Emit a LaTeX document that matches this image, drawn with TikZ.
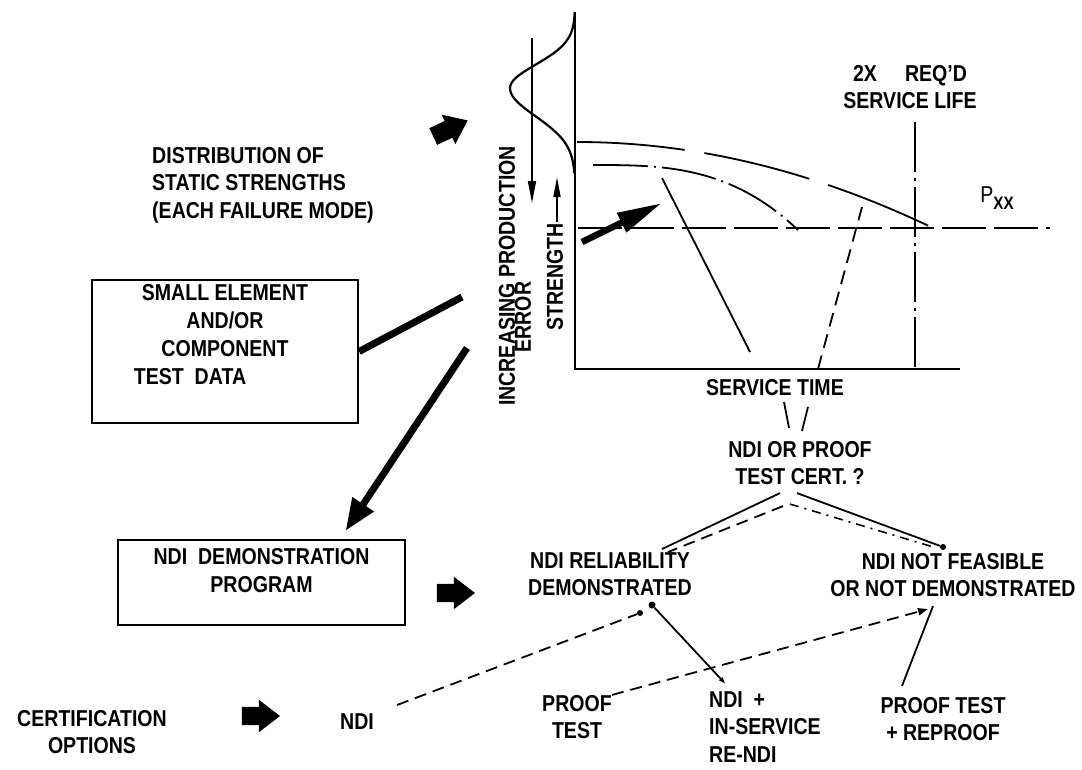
\documentclass[tikz,border=0pt]{standalone}
\usepackage{fontspec}
\setmainfont{Liberation Sans}[FakeStretch=0.85]
\usetikzlibrary{arrows.meta,shapes.arrows}
\tikzset{
  lbl/.style={font=\fontsize{23}{27.5}\selectfont\bfseries, align=center, inner sep=0pt},
  databox/.style={draw, line width=2.2pt, inner sep=4pt, font=\fontsize{23}{28}\selectfont\bfseries},
  fatarrow/.style={single arrow, fill=black, draw=none, inner xsep=0pt, inner ysep=9pt, minimum height=38pt, minimum width=32pt, single arrow head extend=7pt, single arrow tip angle=75},
  dot/.style={circle, fill=black, inner sep=0pt, minimum size=7pt},
  thinln/.style={line width=1.8pt},
  axisln/.style={line width=2.6pt},
  heavy/.style={line width=7pt},
  dashln/.style={line width=1.8pt, dash pattern=on 12pt off 7pt},
  dotdashln/.style={line width=1.6pt, dash pattern=on 9pt off 6pt on 2pt off 6pt},
  refln/.style={line width=2.2pt, dash pattern=on 50pt off 6pt on 3pt off 6pt},
  pxxln/.style={line width=2.2pt, dash pattern=on 44pt off 8pt}
}

\begin{document}
\begin{tikzpicture}[x=1pt, y=-1pt]
  \fill[white] (0,0) rectangle (1082,769);
  \useasboundingbox (0,0) rectangle (1082,769);

  % strength vs service time plot
  \draw[axisln] (575,12) -- (575,369) -- (960,369);
  \draw[line width=2.2pt] plot[smooth, samples=60, domain=12:173, variable=\t]
    ({575-65*exp(-((\t-88)/ifthenelse(\t<88,33,40))*((\t-88)/ifthenelse(\t<88,33,40)))}, \t);
  \draw[thinln, -{Triangle[length=22pt,width=8pt]}] (532,38) -- (532,203);
  \draw[thinln, -{Triangle[length=20pt,width=7pt]}] (557,222) -- (557,177);
  \draw[thinln, dash pattern=on 108pt off 20pt] (577,142) .. controls (696,142) and (814,171) .. (933,228);
  \draw[thinln, dash pattern=on 55pt off 6pt on 2pt off 6pt] plot[samples=40, domain=593:798, variable=\t]
    (\t, {165+65*((\t-593)/205)*((\t-593)/205)*((\t-593)/205)});
  \draw[thinln] (662,178) -- (750,352);
  \draw[thinln, dash pattern=on 14pt off 8pt] (818,369) -- (862,207);
  \draw[refln] (915,122) -- (915,369);
  \draw[pxxln] (578,228) -- (1050,228);
  \draw[line width=6.5pt, -{Triangle[length=45pt,width=20pt]}] (582,242) -- (662,203);

  \node[lbl, rotate=90] (incprod) at (507,276) {INCREASING PRODUCTION};
  \node[lbl, rotate=90] (incerr) at (523,317) {ERROR};
  \node[lbl, rotate=90] (strength) at (555,277) {STRENGTH};
  \node[lbl] (reqlife) at (910,87) {2X\hspace{28pt}REQ'D\\SERVICE LIFE};
  \node[lbl] (pxx) at (997,198) {{\mdseries P}{\fontsize{18}{18}\selectfont\raisebox{-7pt}{XX}}};
  \node[lbl] (stime) at (775,388) {SERVICE TIME};
  \node[lbl, align=left, anchor=west] (distrib) at (152,185) {DISTRIBUTION OF\\STATIC STRENGTHS\\(EACH FAILURE MODE)};

  % boxes
  \node[databox] (smallel) at (225,351.5) {\parbox[c][135pt][t]{258pt}{\centering SMALL ELEMENT\\AND/OR\\COMPONENT\\TEST\ \ DATA\hspace*{70pt}}};
  \node[databox] (demo) at (261.5,582.5) {\parbox[c][77pt][t]{279pt}{\centering\vspace*{4pt}NDI\ \ DEMONSTRATION\\PROGRAM}};

  % decision tree
  \node[lbl] (decide) at (800,463) {NDI OR PROOF\\TEST CERT. ?};
  \node[lbl] (reliab) at (610,574) {NDI RELIABILITY\\DEMONSTRATED};
  \node[lbl] (notfeas) at (953,575) {NDI NOT FEASIBLE\\OR NOT DEMONSTRATED};
  \node[lbl] (certopt) at (92,732) {CERTIFICATION\\OPTIONS};
  \node[lbl] (ndi) at (357,722) {NDI};
  \node[lbl] (proof) at (577,717) {PROOF\\TEST};
  \node[lbl, align=left, anchor=west] (ndiplus) at (709,727) {NDI\ \ +\\IN-SERVICE\\RE-NDI};
  \node[lbl] (proofre) at (943,719) {PROOF TEST\\+ REPROOF};

  \node[fatarrow, rotate=25] (ptrA) at (445,131) {};
  \node[fatarrow] (ptrB) at (450,593) {};
  \node[fatarrow] (ptrC) at (255,716) {};

  \node[dot] (reldot) at (652,605) {};
  \node[dot, minimum size=6pt] (ndidot) at (640,613) {};
  \node[dot, minimum size=6pt] (feasdot) at (943,547) {};

  \coordinate (plotlink) at (462,297);
  \coordinate (plotdrop) at (467,348);
  \coordinate (solidtail) at (784,402);
  \coordinate (dashtail) at (808,407);

  \draw[heavy] (smallel.east) -- (plotlink);
  \draw[heavy, -{Triangle[length=32pt,width=24pt]}] (plotdrop) -- ([xshift=84pt,yshift=8pt]demo.north);
  \draw[thinln] (solidtail) -- ([xshift=-11pt,yshift=13pt]decide.north);
  \draw[thinln] (dashtail) -- ([xshift=2pt,yshift=10pt]decide.north);
  \draw[thinln] ([xshift=-20pt,yshift=-8pt]decide.south) -- ([xshift=52pt,yshift=3pt]reliab.north);
  \draw[dashln] ([xshift=-17pt,yshift=-21pt]decide.south) -- ([xshift=58pt]reliab.north);
  \draw[thinln] ([xshift=-3pt,yshift=-8pt]decide.south) -- (feasdot);
  \draw[dotdashln] ([xshift=-10pt,yshift=-19pt]decide.south) -- ([xshift=-20pt,yshift=6pt]notfeas.north);
  \draw[dashln] ([xshift=23pt,yshift=17pt]ndi.east) -- (ndidot);
  \draw[thinln, -{Stealth[length=7pt,width=5pt]}] (reldot) -- ([xshift=16pt,yshift=8pt]ndiplus.north west);
  \draw[dashln, -{Triangle[length=10pt,width=7pt]}] (proof.north east) -- ([xshift=-25pt,yshift=-12pt]notfeas.south);
  \draw[thinln] ([xshift=-20pt,yshift=-9pt]notfeas.south) -- ([xshift=-41pt,yshift=11pt]proofre.north);
\end{tikzpicture}
\end{document}
